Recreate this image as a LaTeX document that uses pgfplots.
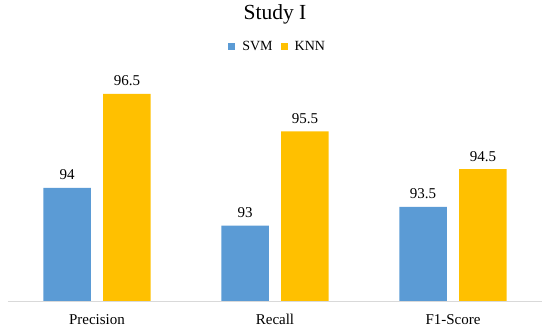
\documentclass[border=0pt]{standalone}
\usepackage{fontspec}
\setmainfont{Liberation Serif}
\usepackage{pgfplots}
\pgfplotsset{compat=1.18}
\definecolor{svmblue}{HTML}{5B9BD5}
\definecolor{knngold}{HTML}{FFC000}
\definecolor{axgray}{HTML}{D9D9D9}
\begin{document}
\begin{tikzpicture}
\useasboundingbox (0,0) rectangle (550pt,332pt);
\begin{axis}[
  at={(8pt,31pt)}, anchor=south west,
  scale only axis, width=534pt, height=226pt,
  ybar,
  xmin=-0.5, xmax=2.5, ymin=91, ymax=97,
  axis x line*=bottom, axis y line=none,
  x axis line style={draw=axgray, line width=0.8pt},
  xtick={0,1,2}, xticklabels={Precision,Recall,F1-Score},
  xtick style={draw=none},
  xticklabel style={anchor=base, yshift=-19pt, font=\fontsize{15}{17}\selectfont},
  bar width=0.267,
  nodes near coords,
  nodes near coords style={anchor=base, yshift=8pt, font=\fontsize{15}{17}\selectfont, text=black},
  point meta=explicit symbolic,
  title={Study I},
  title style={at={(0.5,1.24)}, anchor=center, yshift=0pt, font=\fontsize{21.5}{25}\selectfont},
  legend style={at={(0.505,1.124)}, anchor=center, draw=none, legend columns=2,
    font=\fontsize{14}{16}\selectfont, column sep=5pt,
    /tikz/every even column/.append style={column sep=6pt}},
  legend image code/.code={\fill (0pt,-3.5pt) rectangle (7pt,3.5pt);},
]
\addplot[fill=svmblue, draw=none, bar shift=-0.168] coordinates {(0,94) [94] (1,93) [93] (2,93.5) [93.5]};
\addplot[fill=knngold, draw=none, bar shift=0.168] coordinates {(0,96.5) [96.5] (1,95.5) [95.5] (2,94.5) [94.5]};
\legend{SVM,KNN}
\end{axis}
\end{tikzpicture}
\end{document}
